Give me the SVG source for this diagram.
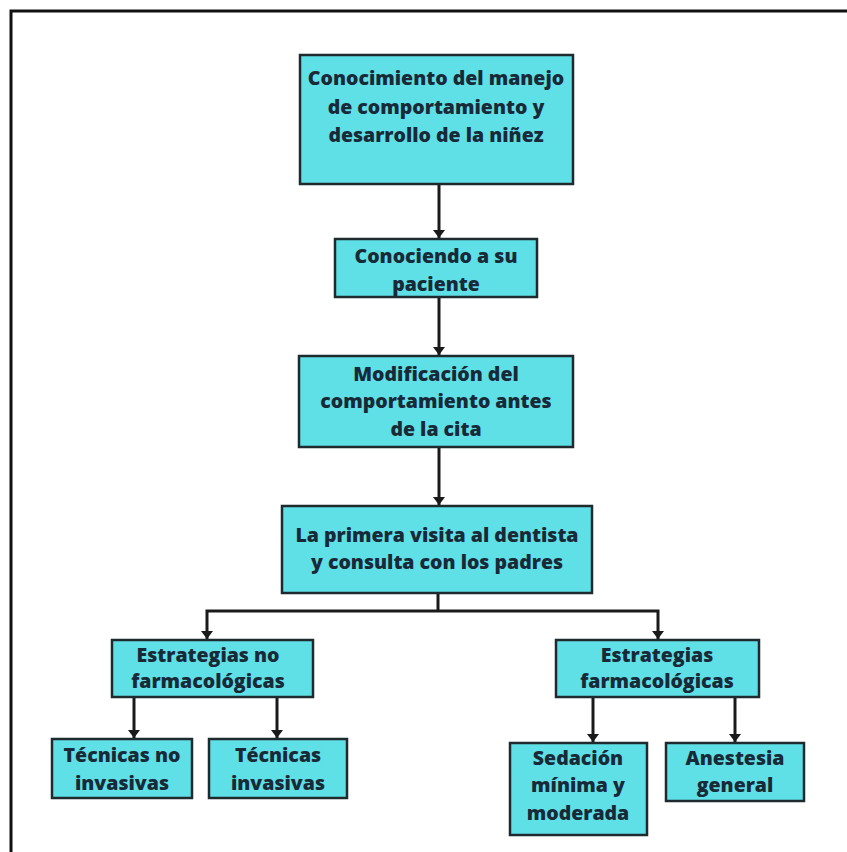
<svg xmlns="http://www.w3.org/2000/svg" width="847" height="852" viewBox="0 0 847 852">
<style>
.box{fill:#5fe0e6;stroke:#1e2a2e;stroke-width:2.5}
.t{font-family:"Open Sans","Liberation Sans",sans-serif;font-weight:800;font-size:19.5px;fill:#182a38;text-anchor:middle}
.c{fill:none;stroke:#1a1a1a;stroke-width:3}
</style>
<defs>
<marker id="arr" markerWidth="12" markerHeight="10" refX="6" refY="9" orient="0" markerUnits="userSpaceOnUse" viewBox="0 0 12 10">
<path d="M0,1 L12,1 L6,9 Z" fill="#1a1a1a"/>
</marker>
</defs>
<rect width="847" height="852" fill="#ffffff"/>
<g id="frame">
<path d="M11,852 L11,11 L847,11" fill="none" stroke="#111" stroke-width="3"/>
</g>
<g id="connectors">
<path class="c" d="M439,184 L439,238" marker-end="url(#arr)"/>
<path class="c" d="M439,297 L439,355" marker-end="url(#arr)"/>
<path class="c" d="M439,447 L439,505" marker-end="url(#arr)"/>
<path class="c" d="M438,593 L438,611"/>
<path class="c" d="M438,611 L207,611 L207,639" marker-end="url(#arr)"/>
<path class="c" d="M438,611 L658,611 L658,639" marker-end="url(#arr)"/>
<path class="c" d="M134,697 L134,738" marker-end="url(#arr)"/>
<path class="c" d="M277,697 L277,738" marker-end="url(#arr)"/>
<path class="c" d="M593,697 L593,742" marker-end="url(#arr)"/>
<path class="c" d="M735,697 L735,742" marker-end="url(#arr)"/>
</g>
<g id="n1">
<rect class="box" x="300" y="55" width="273" height="129"/>
<text class="t" x="436" y="85">Conocimiento del manejo</text>
<text class="t" x="436" y="114">de comportamiento y</text>
<text class="t" x="436" y="142">desarrollo de la niñez</text>
</g>
<g id="n2">
<rect class="box" x="335" y="239" width="202" height="58"/>
<text class="t" x="436" y="263">Conociendo a su</text>
<text class="t" x="436" y="291">paciente</text>
</g>
<g id="n3">
<rect class="box" x="299" y="356" width="274" height="91"/>
<text class="t" x="436" y="381">Modificación del</text>
<text class="t" x="436" y="408">comportamiento antes</text>
<text class="t" x="436" y="436">de la cita</text>
</g>
<g id="n4">
<rect class="box" x="282" y="506" width="310" height="87"/>
<text class="t" x="437" y="542">La primera visita al dentista</text>
<text class="t" x="437" y="569">y consulta con los padres</text>
</g>
<g id="n5">
<rect class="box" x="112" y="640" width="201" height="57"/>
<text class="t" x="208" y="662">Estrategias no</text>
<text class="t" x="208" y="688">farmacológicas</text>
</g>
<g id="n6">
<rect class="box" x="556" y="640" width="203" height="57"/>
<text class="t" x="657" y="662">Estrategias</text>
<text class="t" x="657" y="688">farmacológicas</text>
</g>
<g id="n7">
<rect class="box" x="52" y="739" width="140" height="59"/>
<text class="t" x="122" y="762">Técnicas no</text>
<text class="t" x="122" y="790">invasivas</text>
</g>
<g id="n8">
<rect class="box" x="209" y="739" width="138" height="59"/>
<text class="t" x="278" y="762">Técnicas</text>
<text class="t" x="278" y="790">invasivas</text>
</g>
<g id="n9">
<rect class="box" x="510" y="743" width="137" height="92"/>
<text class="t" x="578" y="765">Sedación</text>
<text class="t" x="578" y="792">mínima y</text>
<text class="t" x="578" y="820">moderada</text>
</g>
<g id="n10">
<rect class="box" x="666" y="743" width="138" height="58"/>
<text class="t" x="735" y="765">Anestesia</text>
<text class="t" x="735" y="792">general</text>
</g>
</svg>
